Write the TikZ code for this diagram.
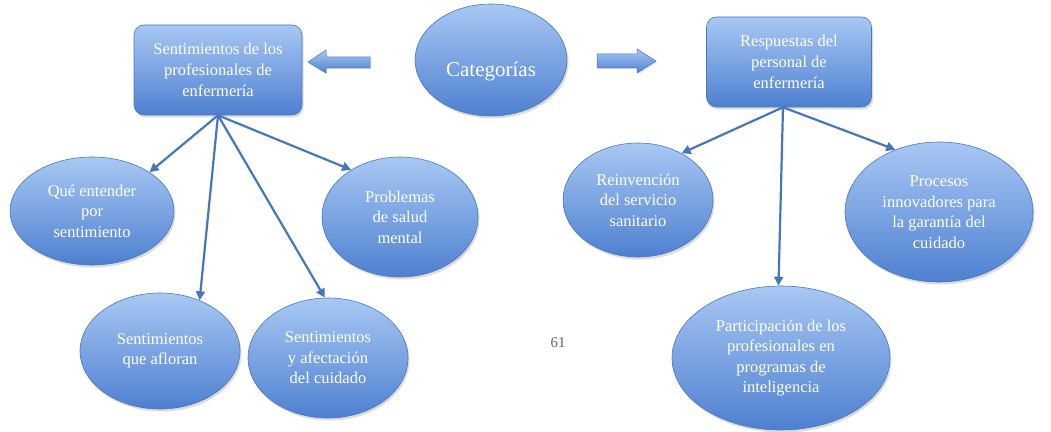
\documentclass[tikz,border=0pt]{standalone}
\usepackage{fontspec}
\setmainfont{Liberation Serif}
\usetikzlibrary{shapes.geometric,shadows,arrows.meta}
\definecolor{topblue}{RGB}{168,200,244}
\definecolor{botblue}{RGB}{78,128,208}
\definecolor{edgeblue}{RGB}{74,120,190}
\definecolor{linkblue}{RGB}{72,118,186}
\tikzset{
  blob/.style={ellipse, top color=topblue, bottom color=botblue, draw=edgeblue, line width=0.6pt,
    text=white, align=center, inner sep=0pt, font=\fontsize{16.5}{20.5}\selectfont,
    drop shadow={shadow xshift=1.5pt, shadow yshift=-2.5pt, fill=black!30, opacity=0.45}},
  topbox/.style={rectangle, rounded corners=10pt, top color=topblue, bottom color=botblue, draw=edgeblue,
    line width=0.6pt, text=white, align=center, inner sep=0pt, font=\fontsize{16.5}{21}\selectfont,
    drop shadow={shadow xshift=1.5pt, shadow yshift=-2.5pt, fill=black!30, opacity=0.45}},
  blockarrow/.style={top color=topblue, bottom color=botblue, draw=edgeblue, line width=0.5pt,
    drop shadow={shadow xshift=1pt, shadow yshift=-1.5pt, fill=black!30, opacity=0.4}},
  link/.style={draw=linkblue, line width=2.2pt, -{Triangle[length=9pt,width=9pt]}}
}
\begin{document}
\begin{tikzpicture}[x=1pt,y=1pt]
\useasboundingbox (0,0) rectangle (1051,431);
\fill[white] (0,0) rectangle (1051,431);

% top row
\node[topbox, minimum width=168pt, minimum height=90pt] (b1) at (218,361)
  {Sentimientos de los\\profesionales de\\enfermería};
\node[blob, minimum width=152pt, minimum height=112pt, font=\fontsize{21}{24}\selectfont,
  text height=34pt, text depth=0pt] (cat) at (491,371) {Categorías};
\node[topbox, minimum width=165pt, minimum height=90pt] (b2) at (789,369)
  {Respuestas del\\personal de\\enfermería};

% block arrows
\path[blockarrow] (308,369) -- (326,381) -- (326,374) -- (370,374) -- (370,363)
  -- (326,363) -- (326,358) -- cycle;
\path[blockarrow] (656,370) -- (637,382) -- (637,377) -- (597,377) -- (597,363)
  -- (637,363) -- (637,358) -- cycle;

% left children
\node[blob, minimum width=164pt, minimum height=108pt] (q) at (92,220)
  {Qué entender\\por\\sentimiento};
\node[blob, minimum width=160pt, minimum height=116pt] (s1) at (160,80)
  {Sentimientos\\que afloran};
\node[blob, minimum width=160pt, minimum height=120pt] (s2) at (328,73)
  {Sentimientos\\y afectación\\del cuidado};
\node[blob, minimum width=156pt, minimum height=120pt] (p) at (400,214)
  {Problemas\\de salud\\mental};

% right children
\node[blob, minimum width=150pt, minimum height=114pt] (r) at (638,231)
  {Reinvención\\del servicio\\sanitario};
\node[blob, minimum width=218pt, minimum height=144pt] (pa) at (781,73)
  {Participación de los\\profesionales en\\programas de\\inteligencia};
\node[blob, minimum width=188pt, minimum height=140pt] (pr) at (939,219)
  {Procesos\\innovadores para\\la garantía del\\cuidado};

\node[text=black!60, font=\fontsize{15}{17}\selectfont] (pg) at (558,88) {61};

% connectors
\draw[link] (b1.south) -- (q.34);
\draw[link] (b1.south) -- (s1.52);
\draw[link] (b1.south) -- (s2.93);
\draw[link] (b1.south) -- (p.136);
\draw[link] ([xshift=-6pt]b2.south) -- (r.47);
\draw[link] ([xshift=-6pt]b2.south) -- (pa.92);
\draw[link] ([xshift=-6pt]b2.south) -- (pr.125);
\end{tikzpicture}
\end{document}
